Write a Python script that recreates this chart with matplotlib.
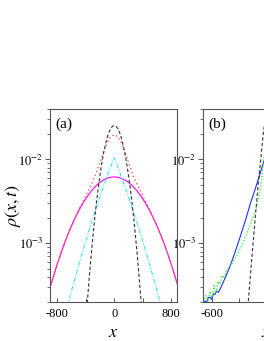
import matplotlib
matplotlib.use("Agg")
import matplotlib.pyplot as plt
from matplotlib.ticker import FixedLocator, NullFormatter, LogLocator

# ---------------- data ----------------
# panel (a)
black_a_x = [-450, -425, -400, -375, -350, -325, -300, -275, -250, -225, -200, -175, -150, -125, -100, -75, -50, -25, 0,
             25, 50, 75, 100, 125, 150, 175, 200, 225, 250, 275, 300, 325, 350, 375, 400, 425, 450]
black_a_y = [2.5e-5, 5.3e-5, 1.08e-4, 2.1e-4, 3.9e-4, 6.9e-4, 1.18e-3, 1.92e-3, 3.0e-3, 4.5e-3, 6.48e-3, 8.9e-3, 1.18e-2,
             1.49e-2, 1.81e-2, 2.10e-2, 2.33e-2, 2.49e-2, 2.54e-2,
             2.49e-2, 2.33e-2, 2.10e-2, 1.81e-2, 1.49e-2, 1.18e-2, 8.9e-3, 6.48e-3, 4.5e-3, 3.0e-3, 1.92e-3, 1.18e-3,
             6.9e-4, 3.9e-4, 2.1e-4, 1.08e-4, 5.3e-5, 2.5e-5]

red_a_x = [-900, -850, -800, -750, -700, -650, -600, -550, -500, -450, -400, -350, -300, -250, -200, -150, -100, -50, 0,
           50, 100, 150, 200, 250, 300, 350, 400, 450, 500, 550, 600, 650, 700, 750, 800, 850, 900]
red_a_y = [2.96e-4, 4.1e-4, 5.6e-4, 7.5e-4, 9.9e-4, 1.27e-3, 1.61e-3, 2.0e-3, 2.5e-3, 3.0e-3, 3.7e-3, 4.5e-3, 5.5e-3,
           7.0e-3, 9.2e-3, 1.23e-2, 1.58e-2, 1.87e-2, 1.98e-2,
           1.87e-2, 1.58e-2, 1.23e-2, 9.2e-3, 7.0e-3, 5.5e-3, 4.5e-3, 3.7e-3, 3.0e-3, 2.5e-3, 2.0e-3, 1.61e-3,
           1.27e-3, 9.9e-4, 7.5e-4, 5.6e-4, 4.1e-4, 2.96e-4]

cyan_a_x = [-750, -700, -650, -600, -550, -500, -450, -400, -350, -300, -250, -200, -150, -100, -50, 0,
            50, 100, 150, 200, 250, 300, 350, 400, 450, 500, 550, 600, 650, 700, 750]
cyan_a_y = [8.8e-5, 1.29e-4, 1.87e-4, 2.7e-4, 3.85e-4, 5.45e-4, 7.6e-4, 1.06e-3, 1.46e-3, 1.99e-3, 2.68e-3, 3.59e-3,
            4.76e-3, 6.25e-3, 8.14e-3, 1.05e-2,
            8.14e-3, 6.25e-3, 4.76e-3, 3.59e-3, 2.68e-3, 1.99e-3, 1.46e-3, 1.06e-3, 7.6e-4, 5.45e-4, 3.85e-4,
            2.7e-4, 1.87e-4, 1.29e-4, 8.8e-5]

magenta_a_x = red_a_x
magenta_a_y = [2.96e-4, 4.1e-4, 5.6e-4, 7.5e-4, 9.9e-4, 1.27e-3, 1.61e-3, 1.99e-3, 2.43e-3, 2.90e-3, 3.40e-3, 3.91e-3,
               4.42e-3, 4.90e-3, 5.34e-3, 5.70e-3, 5.97e-3, 6.14e-3, 6.2e-3,
               6.14e-3, 5.97e-3, 5.70e-3, 5.34e-3, 4.90e-3, 4.42e-3, 3.91e-3, 3.40e-3, 2.90e-3, 2.43e-3, 1.99e-3,
               1.61e-3, 1.27e-3, 9.9e-4, 7.5e-4, 5.6e-4, 4.1e-4, 2.96e-4]

# panel (b)
blue_b_x = [-660, -652, -640, -628, -615, -602, -590, -578, -565, -553, -541, -504, -467, -430, -393, -355, -318,
            -281, -244, -215, -185]
blue_b_y = [1.9e-4, 2.06e-4, 2.0e-4, 2.25e-4, 2.28e-4, 2.15e-4, 2.5e-4, 2.47e-4, 2.7e-4, 2.6e-4, 2.83e-4, 3.83e-4,
            5.32e-4, 7.81e-4, 1.18e-3, 1.83e-3, 2.91e-3, 4.40e-3, 6.8e-3, 9.7e-3, 1.43e-2]

green_b_x = [-659, -644, -630, -615, -600, -585, -570, -556, -541, -526, -511, -496, -452, -407, -370, -333, -304,
             -274, -252, -230, -215, -193]
green_b_y = [2.16e-4, 2.41e-4, 2.04e-4, 2.68e-4, 2.28e-4, 3.16e-4, 2.54e-4, 3.53e-4, 3.25e-4, 4.16e-4, 3.83e-4,
             4.64e-4, 5.78e-4, 7.6e-4, 1.03e-3, 1.43e-3, 1.88e-3, 2.61e-3, 3.73e-3, 6.1e-3, 1.06e-2, 1.73e-2]

black_b_x = [-345, -331, -306, -281, -257, -238, -220, -200]
black_b_y = [1.3e-4, 2.06e-4, 6.5e-4, 1.93e-3, 5.3e-3, 1.05e-2, 2.1e-2, 3.4e-2]

xticks_a = [-800, 0, 800]
xticklabels_a = ["-800", "0", "800"]
xminor_a = [-400, 400]
xticks_b = [-600]
xticklabels_b = ["-600"]
xminor_b = [-400, -200, 0, 200]
yticks = [1e-3, 1e-2]
yticklabels = ["$10^{-3}$", "$10^{-2}$"]

# ---------------- figure ----------------
plt.rcParams["font.family"] = ["Liberation Serif", "DejaVu Serif"]
plt.rcParams["mathtext.fontset"] = "stix"
plt.rcParams["lines.scale_dashes"] = False

W, H = 264, 341
fig = plt.figure(figsize=(W / 100, H / 100), dpi=100)

def px_axes(left, top, right, bottom):
    return [left / W, 1 - bottom / H, (right - left) / W, (bottom - top) / H]

ax_a = fig.add_axes(px_axes(50, 109, 177, 302))
ax_b = fig.add_axes(px_axes(203, 109, 330, 302))

spine_col = "#555555"
for ax in (ax_a, ax_b):
    ax.set_yscale("log")
    ax.set_ylim(2.0e-4, 4.0e-2)
    for s in ax.spines.values():
        s.set_color(spine_col)
        s.set_linewidth(0.8)
    ax.yaxis.set_major_locator(FixedLocator(yticks))
    ax.set_yticklabels(yticklabels)
    ax.yaxis.set_minor_locator(LogLocator(base=10, subs=range(2, 10)))
    ax.yaxis.set_minor_formatter(NullFormatter())
    ax.tick_params(axis="y", which="major", direction="out", length=3.5, width=0.7, color=spine_col,
                   labelsize=9, pad=1.5)
    ax.tick_params(axis="y", which="minor", direction="out", length=2, width=0.6, color=spine_col)
    ax.tick_params(axis="x", which="both", direction="in", length=3, width=0.7, color=spine_col,
                   labelsize=9, pad=4.5)

lw = 0.8
ax_a.plot(magenta_a_x, magenta_a_y, color="#ff00ff", lw=lw)
ax_a.plot(cyan_a_x, cyan_a_y, color="#33e8f0", lw=lw, dashes=(3, 1.2, 0.8, 1.2))
ax_a.plot(red_a_x, red_a_y, color="#ff4d4d", lw=1.0, dashes=(0.9, 2.0))
ax_a.plot(black_a_x, black_a_y, color="#333333", lw=lw, dashes=(2.4, 1.6))
ax_a.set_xlim(-900, 880)
ax_a.set_xticks(xticks_a)
ax_a.set_xticklabels(xticklabels_a)
ax_a.xaxis.set_minor_locator(FixedLocator(xminor_a))
ax_a.set_xlabel("$x$", fontsize=13)
ax_a.xaxis.set_label_coords(0.5, -0.115)
ax_a.set_ylabel(r"$\rho(x,t)$", fontsize=13)
ax_a.yaxis.set_label_coords(-0.215, 0.5)
ax_a.text(0.04, 0.955, "(a)", transform=ax_a.transAxes, fontsize=11, ha="left", va="top")

ax_b.plot(blue_b_x, blue_b_y, color="#1f2dff", lw=lw)
ax_b.plot(green_b_x, green_b_y, color="#33ee33", lw=1.0, dashes=(0.9, 1.4))
ax_b.plot(black_b_x, black_b_y, color="#333333", lw=lw, dashes=(2.4, 1.6))
ax_b.set_xlim(-667, 274)
ax_b.set_xticks(xticks_b)
ax_b.set_xticklabels(xticklabels_b)
ax_b.xaxis.set_minor_locator(FixedLocator(xminor_b))
ax_b.set_xlabel("$x$", fontsize=13)
ax_b.xaxis.set_label_coords(0.5, -0.115)
ax_b.text(0.04, 0.955, "(b)", transform=ax_b.transAxes, fontsize=11, ha="left", va="top")

fig.savefig("out.png", dpi=100)
